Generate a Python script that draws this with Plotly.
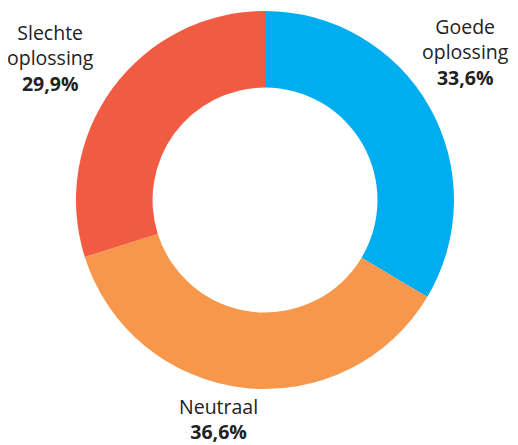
import plotly.graph_objects as go

categories = ["Goede oplossing", "Neutraal", "Slechte oplossing"]
values = [33.6, 36.6, 29.9]
colors = ["#00AEEF", "#F7974B", "#F15B42"]
label_lines = [["Goede", "oplossing"], ["Neutraal"], ["Slechte", "oplossing"]]

# page body has an 8px margin; lay out in figure coordinates
OFF = 8
W, H = 518 - OFF, 445 - OFF
cx, cy, r = 265 - OFF, 200 - OFF, 189

fig = go.Figure(go.Pie(
    labels=categories,
    values=values,
    marker=dict(colors=colors, line=dict(width=0)),
    hole=0.595,
    sort=False,
    direction="clockwise",
    rotation=0,
    textinfo="none",
    hoverinfo="label+percent",
    showlegend=False,
    domain=dict(x=[(cx - r) / W, (cx + r) / W], y=[1 - (cy + r) / H, 1 - (cy - r) / H]),
))

def fmt(v):
    return f"{v:.1f}".replace(".", ",") + "%"

# label block centers in screen pixels
label_pos = [(465, 52), (218, 419), (50, 58)]
anns = []
for lines, v, (x, y) in zip(label_lines, values, label_pos):
    txt = "<br>".join(lines) + "<br><b>" + fmt(v) + "</b>"
    anns.append(dict(
        x=(x - OFF) / W, y=1 - (y - OFF) / H, xref="paper", yref="paper",
        text=txt, showarrow=False, xanchor="center", yanchor="middle",
        align="center", font=dict(family="Open Sans, sans-serif", size=19.5, color="#222222"),
    ))

fig.update_layout(
    width=W, height=H,
    margin=dict(l=0, r=0, t=0, b=0),
    paper_bgcolor="white", plot_bgcolor="white",
    annotations=anns,
)
fig.write_html("out.html")
